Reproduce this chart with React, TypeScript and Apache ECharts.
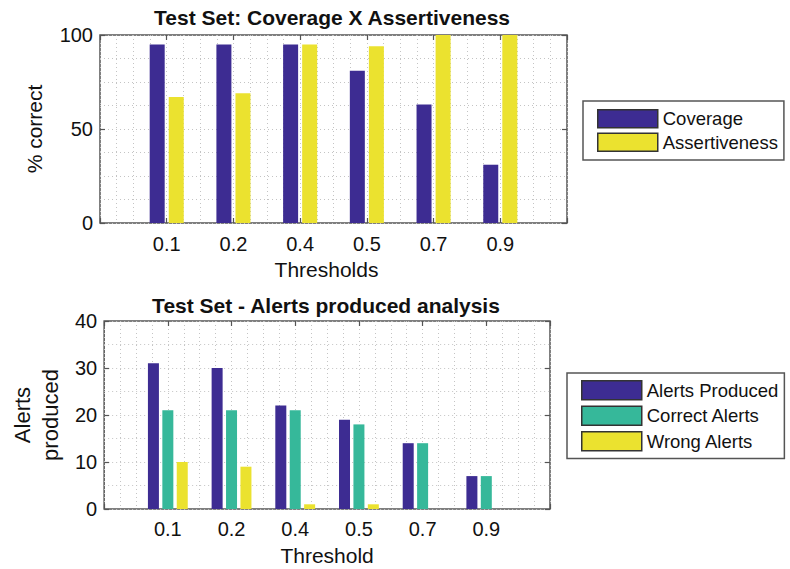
import React, { useEffect, useRef } from "react";
import * as echarts from "echarts";

const categories = ["0.1", "0.2", "0.4", "0.5", "0.7", "0.9"];
const coverage = [95, 95, 95, 81, 63, 31];
const assertiveness = [67, 69, 95, 94, 100, 100];
const alertsProduced = [31, 30, 22, 19, 14, 7];
const correctAlerts = [21, 21, 21, 18, 14, 7];
const wrongAlerts = [10, 9, 1, 1, 0, 0];

const topTitle = "Test Set: Coverage X Assertiveness";
const bottomTitle = "Test Set - Alerts produced analysis";

const BLUE = "#3d2c92";
const TEAL = "#36b89a";
const YELLOW = "#ebe22f";
const FONT = "Liberation Sans, Arial, Helvetica, sans-serif";
const GRID_C = "#c4c4c4";
const BOX_C = "#555555";

const padCats = ["", ...categories, ""];
const pad = (a: number[]) => [null, ...a, null];

function catAxis(gridIndex: number, name: string, margin: number, show: boolean) {
  return {
    type: "category",
    gridIndex,
    data: padCats,
    boundaryGap: false,
    position: show ? "bottom" : "top",
    name: show ? name : "",
    nameLocation: "middle",
    nameGap: 36,
    nameTextStyle: { fontSize: 21, color: "#111", fontFamily: FONT, padding: show && gridIndex === 0 ? [0, 14, 0, 0] : 0 },
    axisLine: { show: false },
    axisTick: { show: true, inside: true, length: 5, lineStyle: { color: BOX_C, width: 1.2 } },
    axisLabel: { show, interval: 0, margin, fontSize: 20, color: "#111", fontFamily: FONT },
    splitLine: { show: false },
  };
}

function gridXAxis(gridIndex: number) {
  return {
    type: "value",
    gridIndex,
    min: 0,
    max: 7,
    interval: 0.25,
    position: "top",
    axisLine: { show: false },
    axisTick: { show: false },
    axisLabel: { show: false },
    splitLine: { show: true, lineStyle: { color: GRID_C, type: [1, 3], width: 1 } },
  };
}

function valAxis(gridIndex: number, max: number, interval: number, minorSplit: number, left: boolean, name: string, nameGap: number, nameSize: number) {
  return {
    type: "value",
    gridIndex,
    min: 0,
    max,
    interval,
    position: left ? "left" : "right",
    name: left ? name : "",
    nameLocation: "middle",
    nameGap,
    nameTextStyle: { fontSize: nameSize, color: "#111", fontFamily: FONT, lineHeight: 28 },
    axisLine: { show: false },
    axisTick: { show: true, inside: true, length: 5, lineStyle: { color: BOX_C, width: 1.2 } },
    axisLabel: { show: left, margin: 7, fontSize: 20, color: "#111", fontFamily: FONT },
    minorTick: { show: false, splitNumber: minorSplit },
    splitLine: { show: left, lineStyle: { color: GRID_C, type: [1, 3], width: 1 } },
    minorSplitLine: { show: left, lineStyle: { color: GRID_C, type: [1, 3], width: 1 } },
  };
}

export default function App() {
  const ref = useRef<HTMLDivElement>(null);
  useEffect(() => {
    if (!ref.current) return;
    const chart = echarts.init(ref.current, undefined, { renderer: "svg" });
    const legendCommon = {
      orient: "vertical",
      icon: "rect",
      itemWidth: 60,
      backgroundColor: "#fff",
      borderColor: BOX_C,
      borderWidth: 1.5,
      selectedMode: false,
      textStyle: { fontSize: 18.5, color: "#111", fontFamily: FONT },
      itemStyle: { borderColor: "#333", borderWidth: 1.5 },
    };
    chart.setOption({
      animation: false,
      backgroundColor: "#fff",
      grid: [
        { left: 100, top: 35, width: 467, height: 188, show: true, borderColor: BOX_C, borderWidth: 1.5, backgroundColor: "transparent" },
        { left: 100, top: 321, width: 450, height: 188, show: true, borderColor: BOX_C, borderWidth: 1.5, backgroundColor: "transparent" },
      ],
      xAxis: [
        catAxis(0, "Thresholds", 11, true),
        gridXAxis(0),
        catAxis(0, "", 0, false),
        catAxis(1, "Threshold", 10, true),
        gridXAxis(1),
        catAxis(1, "", 0, false),
      ],
      yAxis: [
        valAxis(0, 100, 50, 4, true, "% correct", 46, 21),
        valAxis(0, 100, 50, 4, false, "", 0, 21),
        valAxis(1, 40, 10, 2, true, "Alerts\nproduced", 33, 22),
        valAxis(1, 40, 10, 2, false, "", 0, 22),
      ],
      legend: [
        { ...legendCommon, left: 583, top: 101, padding: [8, 6, 8, 14], itemHeight: 18, itemGap: 4, data: ["Coverage", "Assertiveness"] },
        { ...legendCommon, left: 567, top: 373, padding: [7, 6, 7, 14], itemHeight: 19, itemGap: 5, data: ["Alerts Produced", "Correct Alerts", "Wrong Alerts"] },
      ],
      graphic: [
        { type: "text", x: 332, y: 17.5, style: { text: topTitle, fontSize: 21, fontWeight: "bold", fontFamily: FONT, fill: "#111", align: "center", verticalAlign: "middle" } },
        { type: "text", x: 326, y: 305, style: { text: bottomTitle, fontSize: 21, fontWeight: "bold", fontFamily: FONT, fill: "#111", align: "center", verticalAlign: "middle" } },
      ],
      series: [
        { name: "Coverage", type: "bar", xAxisIndex: 0, yAxisIndex: 0, data: pad(coverage), barWidth: 15, barGap: "27%", itemStyle: { color: BLUE } },
        { name: "Assertiveness", type: "bar", xAxisIndex: 0, yAxisIndex: 0, data: pad(assertiveness), barWidth: 15, barGap: "27%", itemStyle: { color: YELLOW } },
        { name: "Alerts Produced", type: "bar", xAxisIndex: 3, yAxisIndex: 2, data: pad(alertsProduced), barWidth: 11, barGap: "31%", itemStyle: { color: BLUE } },
        { name: "Correct Alerts", type: "bar", xAxisIndex: 3, yAxisIndex: 2, data: pad(correctAlerts), barWidth: 11, barGap: "31%", itemStyle: { color: TEAL } },
        { name: "Wrong Alerts", type: "bar", xAxisIndex: 3, yAxisIndex: 2, data: pad(wrongAlerts), barWidth: 11, barGap: "31%", itemStyle: { color: YELLOW } },
      ],
    });
    return () => chart.dispose();
  }, []);
  return (
    <div
      ref={ref}
      style={{ position: "fixed", left: 0, top: 0, width: 790, height: 569, background: "#fff" }}
    />
  );
}
